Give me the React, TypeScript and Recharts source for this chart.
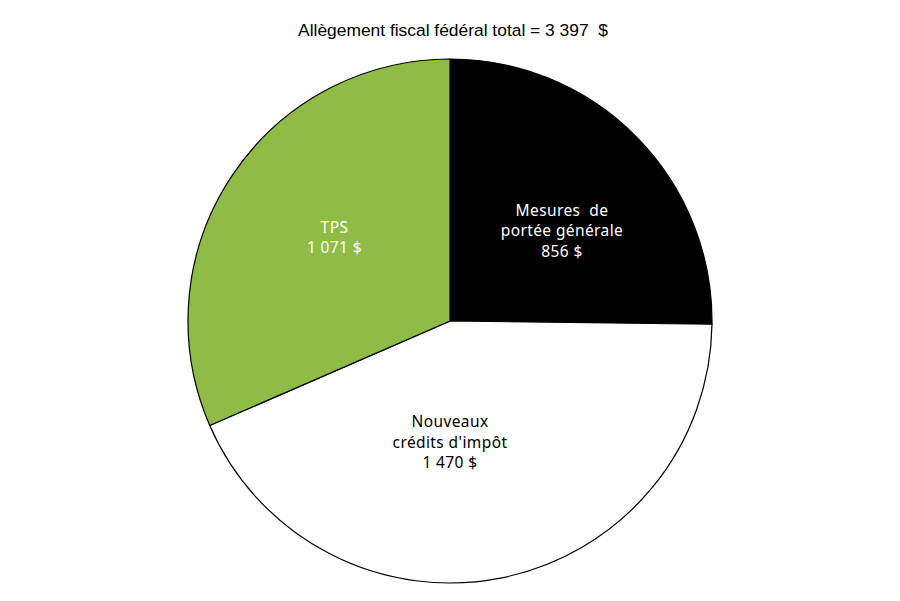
import React from 'react';
import { PieChart, Pie, Cell } from 'recharts';

const title = 'Allègement fiscal fédéral total = 3 397  $';
const categories = ['Mesures  de|portée générale', "Nouveaux|crédits d'impôt", 'TPS'];
const values = [856, 1470, 1071];
const valueLabels = ['856 $', '1 470 $', '1 071 $'];

const fills = ['#000000', '#ffffff', '#8fbb47'];
const textColors = ['#ffffff', '#000000', '#ffffff'];
// where each label sits (angle in degrees, radius as fraction of the pie)
const labelSpots = [
  { angle: 39, r: 0.55 },
  { angle: -90, r: 0.46 },
  { angle: 144, r: 0.545 },
];

const data = categories.map((name, i) => ({ name, value: values[i] }));

const RAD = Math.PI / 180;

function renderLabel(props: any) {
  const { cx, cy, outerRadius, index } = props;
  const spot = labelSpots[index];
  const x = cx + Math.cos(spot.angle * RAD) * outerRadius * spot.r;
  const y = cy - Math.sin(spot.angle * RAD) * outerRadius * spot.r;
  const lines = [...categories[index].split('|'), valueLabels[index]];
  const lh = 20.5;
  const top = y - ((lines.length - 1) * lh) / 2;
  return (
    <text
      key={index}
      x={x}
      y={top}
      textAnchor="middle"
      dominantBaseline="central"
      fill={textColors[index]}
      fontFamily="'Noto Sans', sans-serif"
      fontSize={15.5}
      style={{ whiteSpace: 'pre', letterSpacing: '0.4px' }}
    >
      {lines.map((l, k) => (
        <tspan key={k} x={x} dy={k === 0 ? 0 : lh}>
          {l}
        </tspan>
      ))}
    </text>
  );
}

export default function App() {
  return (
    <div style={{ position: 'absolute', left: 0, top: 0, width: 900, height: 601, background: '#fff' }}>
      <div
        style={{
          position: 'absolute',
          top: 20,
          left: 0,
          width: 906,
          textAlign: 'center',
          fontFamily: "'Liberation Sans', Arial, sans-serif",
          fontSize: 17.4,
          whiteSpace: 'pre',
          color: '#000',
        }}
      >
        {title}
      </div>
      <PieChart width={900} height={601}>
        <Pie
          data={data}
          dataKey="value"
          nameKey="name"
          cx={445}
          cy={316}
          outerRadius={262}
          startAngle={90}
          endAngle={-270}
          stroke="#000"
          strokeWidth={1.2}
          label={renderLabel}
          labelLine={false}
          isAnimationActive={false}
        >
          {data.map((d, i) => (
            <Cell key={d.name} fill={fills[i]} />
          ))}
        </Pie>
      </PieChart>
    </div>
  );
}
